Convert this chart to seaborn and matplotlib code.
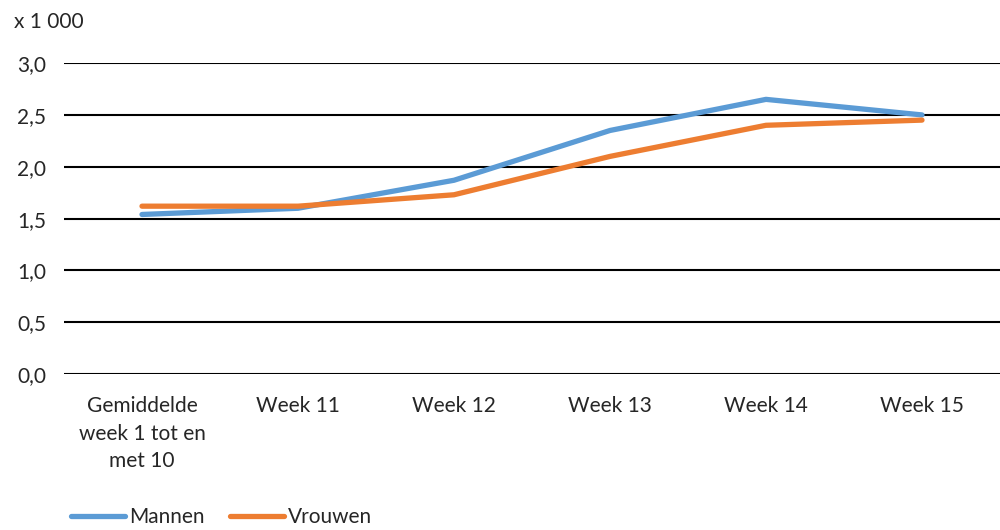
import matplotlib
matplotlib.use("Agg")
import matplotlib.pyplot as plt
import pandas as pd
import seaborn as sns

categories = ["Gemiddelde\nweek 1 tot en\nmet 10", "Week 11", "Week 12", "Week 13", "Week 14", "Week 15"]
mannen = [1.54, 1.60, 1.87, 2.35, 2.65, 2.50]
vrouwen = [1.62, 1.62, 1.73, 2.10, 2.40, 2.45]
series_names = ["Mannen", "Vrouwen"]
colors = ["#5b9bd5", "#ed7d31"]
y_ticks = [0.0, 0.5, 1.0, 1.5, 2.0, 2.5, 3.0]

df = pd.DataFrame({
    "week": categories * 2,
    "aantal": mannen + vrouwen,
    "geslacht": [series_names[0]] * len(categories) + [series_names[1]] * len(categories),
})

sns.set_style("white")
plt.rcParams["font.family"] = ["Lato", "DejaVu Sans"]
fs = 15

fig = plt.figure(figsize=(10, 5.3), dpi=100)
ax = fig.add_axes([0.064, 0.294, 0.936, 0.587])

sns.lineplot(data=df, x="week", y="aantal", hue="geslacht", palette=colors,
             linewidth=3.8, sort=False, ax=ax, legend=False, zorder=3)
for line in ax.lines:
    line.set_solid_capstyle("round")
    line.set_solid_joinstyle("round")

ax.set_xlim(-0.5, len(categories) - 0.5)
ax.set_ylim(0, 3.0)
ax.set_yticks(y_ticks)
ax.set_yticklabels([f"{v:.1f}".replace(".", ",") for v in y_ticks], fontsize=fs)
ax.set_xticks(range(len(categories)))
ax.set_xticklabels(categories, fontsize=fs, linespacing=1.47)
ax.tick_params(axis="both", length=0)
ax.tick_params(axis="x", pad=16)
ax.tick_params(axis="y", pad=13)
ax.set_xlabel("")
ax.set_ylabel("")
for s in ax.spines.values():
    s.set_visible(False)
ax.yaxis.grid(True, color="black", linewidth=1.5)
ax.set_axisbelow(True)

fig.text(0.014, 0.958, "x 1 000", fontsize=fs, va="center", ha="left")

handles = [plt.Line2D([], [], color=c, linewidth=3.8, solid_capstyle="round") for c in colors]
fig.legend(handles, series_names, loc="lower left", bbox_to_anchor=(0.052, -0.03),
           ncol=2, frameon=False, fontsize=fs, handlelength=2.6, handletextpad=0.2,
           columnspacing=1.2)

fig.savefig("out.png", dpi=100)
